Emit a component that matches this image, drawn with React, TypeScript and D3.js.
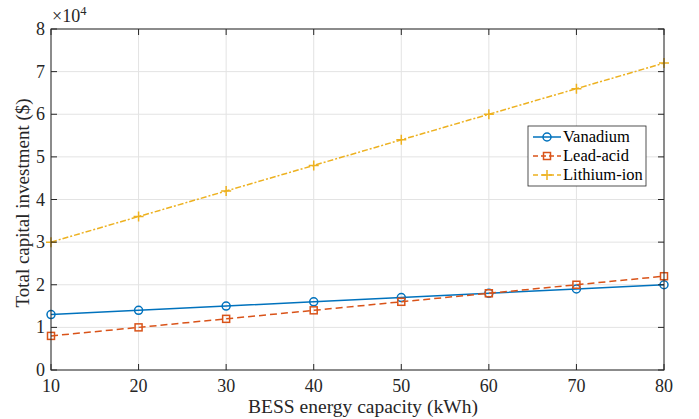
import React from "react";
import * as d3 from "d3";

const capacity = [10, 20, 30, 40, 50, 60, 70, 80];
const vanadium = [13000, 14000, 15000, 16000, 17000, 18000, 19000, 20000];
const leadAcid = [8000, 10000, 12000, 14000, 16000, 18000, 20000, 22000];
const lithiumIon = [30000, 36000, 42000, 48000, 54000, 60000, 66000, 72000];
const xTicks = [10, 20, 30, 40, 50, 60, 70, 80];
const yTicks = [0, 1, 2, 3, 4, 5, 6, 7, 8];

const series = [
  { name: "Vanadium", values: vanadium, color: "#0072BD", dash: "", marker: "circle" },
  { name: "Lead-acid", values: leadAcid, color: "#D95319", dash: "7,4", marker: "square" },
  { name: "Lithium-ion", values: lithiumIon, color: "#EDB120", dash: "6,2,2,2", marker: "plus" },
];

const W = 699;
const H = 419;
const m = { left: 51, right: 35, top: 29, bottom: 49 };
const font = "Liberation Serif, Times New Roman, serif";
const axisColor = "#262626";

const Marker = ({ kind, x, y, color }: { kind: string; x: number; y: number; color: string }) => {
  if (kind === "circle") return <circle cx={x} cy={y} r={4} fill="none" stroke={color} strokeWidth={1.5} />;
  if (kind === "square")
    return <rect x={x - 3.5} y={y - 3.5} width={7} height={7} fill="none" stroke={color} strokeWidth={1.5} />;
  return (
    <path d={`M${x - 5},${y}H${x + 5}M${x},${y - 5}V${y + 5}`} stroke={color} strokeWidth={1.5} fill="none" />
  );
};

export default function App() {
  const x = d3.scaleLinear().domain([10, 80]).range([m.left, W - m.right]);
  const y = d3.scaleLinear().domain([0, 80000]).range([H - m.bottom, m.top]);
  const x0 = m.left;
  const x1 = W - m.right;
  const y0 = H - m.bottom;
  const y1 = m.top;
  const line = d3
    .line<number>()
    .x((_, i) => x(capacity[i]))
    .y((d) => y(d));

  const legendX = 528;
  const legendY = 126;
  const tf = { fontFamily: font };

  return (
    <svg width={W} height={H} style={{ position: "absolute", left: 0, top: 0 }}>
      <rect width={W} height={H} fill="#fff" />
      {/* grid */}
      {xTicks.map((t) => (
        <line key={"gx" + t} x1={x(t)} x2={x(t)} y1={y0} y2={y1} stroke="#e3e3e3" strokeWidth={1} />
      ))}
      {yTicks.map((t) => (
        <line key={"gy" + t} x1={x0} x2={x1} y1={y(t * 10000)} y2={y(t * 10000)} stroke="#e3e3e3" strokeWidth={1} />
      ))}
      {/* series */}
      {series.map((s) => (
        <g key={s.name}>
          <path d={line(s.values) || ""} fill="none" stroke={s.color} strokeWidth={1.5} strokeDasharray={s.dash} />
          {s.values.map((v, i) => (
            <Marker key={i} kind={s.marker} x={x(capacity[i])} y={y(v)} color={s.color} />
          ))}
        </g>
      ))}
      {/* box */}
      <rect x={x0} y={y1} width={x1 - x0} height={y0 - y1} fill="none" stroke={axisColor} strokeWidth={1} />
      {xTicks.map((t) => (
        <g key={"tx" + t}>
          <line x1={x(t)} x2={x(t)} y1={y0} y2={y0 - 6} stroke={axisColor} />
          <line x1={x(t)} x2={x(t)} y1={y1} y2={y1 + 6} stroke={axisColor} />
          <text x={x(t)} y={y0 + 22} fontSize={18} textAnchor="middle" fill={axisColor} style={tf}>
            {t}
          </text>
        </g>
      ))}
      {yTicks.map((t) => (
        <g key={"ty" + t}>
          <line x1={x0} x2={x0 + 6} y1={y(t * 10000)} y2={y(t * 10000)} stroke={axisColor} />
          <line x1={x1} x2={x1 - 6} y1={y(t * 10000)} y2={y(t * 10000)} stroke={axisColor} />
          <text x={x0 - 6} y={y(t * 10000) + 6} fontSize={18} textAnchor="end" fill={axisColor} style={tf}>
            {t}
          </text>
        </g>
      ))}
      <text x={x0 + 1} y={y1 - 7} fontSize={18} fill={axisColor} style={tf}>
        ×10<tspan dy={-7} fontSize={12.5}>4</tspan>
      </text>
      <text x={363} y={413} fontSize={19.5} textAnchor="middle" fill={axisColor} style={tf}>
        BESS energy capacity (kWh)
      </text>
      <text
        transform={`translate(29,203) rotate(-90)`}
        fontSize={19}
        textAnchor="middle"
        fill={axisColor}
        style={tf}
      >
        Total capital investment ($)
      </text>
      {/* legend */}
      <rect x={legendX} y={legendY} width={118} height={60} fill="#fff" stroke={axisColor} strokeWidth={0.8} />
      {series.map((s, i) => {
        const ly = legendY + 11 + i * 19;
        return (
          <g key={"lg" + s.name}>
            <line
              x1={legendX + 5}
              x2={legendX + 33}
              y1={ly}
              y2={ly}
              stroke={s.color}
              strokeWidth={1.5}
              strokeDasharray={s.dash ? "5,3" : ""}
            />
            <Marker kind={s.marker} x={legendX + 19} y={ly} color={s.color} />
            <text x={legendX + 35} y={ly + 5} fontSize={16.5} fill="#000" style={tf}>
              {s.name}
            </text>
          </g>
        );
      })}
    </svg>
  );
}
